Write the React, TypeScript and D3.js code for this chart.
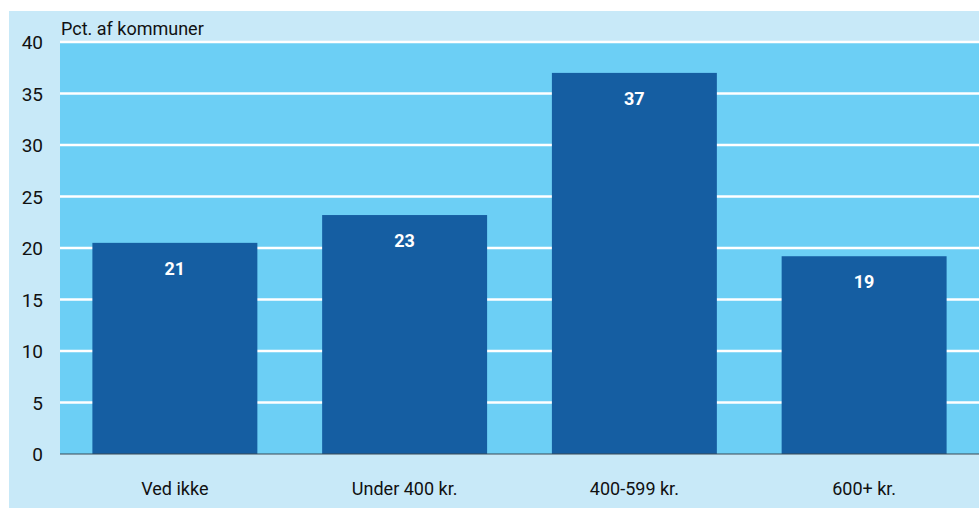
import React from "react";
import * as d3 from "d3";

const categories = ["Ved ikke", "Under 400 kr.", "400-599 kr.", "600+ kr."];
const values = [20.5, 23.2, 37.0, 19.2];
const valueLabels = ["21", "23", "37", "19"];
const yTicks = [0, 5, 10, 15, 20, 25, 30, 35, 40];
const yTitle = "Pct. af kommuner";

const W = 979;
const H = 509;
const FONT = "'Liberation Sans Narrow', 'Roboto', 'Liberation Sans', sans-serif";

export default function App() {
  const left = 60, right = 979, top = 42, bottom = 454;
  const x = d3.scaleBand<string>().domain(categories).range([left, right]).paddingInner(0.282).paddingOuter(0.141);
  const y = d3.scaleLinear().domain([0, 40]).range([bottom, top]);
  return (
    <svg width={W} height={H} style={{ position: "absolute", left: 0, top: 0, display: "block" }}>
      <rect x={9} y={11} width={W - 9} height={497} fill="#c8e9f8" />
      <rect x={left} y={top} width={right - left} height={bottom - top} fill="#6ccff5" />
      {yTicks.filter((t) => t > 0).map((t) => (
        <line key={t} x1={left} x2={right} y1={y(t)} y2={y(t)} stroke="#ffffff" strokeWidth={2.5} />
      ))}
      {categories.map((c, i) => (
        <rect key={c} x={x(c)} y={y(values[i])} width={x.bandwidth()} height={bottom - y(values[i])} fill="#155ea2" />
      ))}
      <line x1={left} x2={right} y1={bottom} y2={bottom} stroke="#3a4a55" strokeWidth={1.2} />
      {categories.map((c, i) => (
        <text key={c} x={(x(c) as number) + x.bandwidth() / 2} y={y(values[i]) + 32} textAnchor="middle" fill="#ffffff" fontWeight="bold" fontSize={18} fontFamily={FONT}>
          {valueLabels[i]}
        </text>
      ))}
      {yTicks.map((t) => (
        <text key={t} x={43} y={y(t) + 7} textAnchor="end" fill="#111" fontSize={19} fontFamily={FONT}>
          {t}
        </text>
      ))}
      {categories.map((c) => (
        <text key={c} x={(x(c) as number) + x.bandwidth() / 2} y={495} textAnchor="middle" fill="#111" fontSize={18} fontFamily={FONT}>
          {c}
        </text>
      ))}
      <text x={61} y={35} fill="#111" fontSize={18} fontFamily={FONT}>{yTitle}</text>
    </svg>
  );
}
